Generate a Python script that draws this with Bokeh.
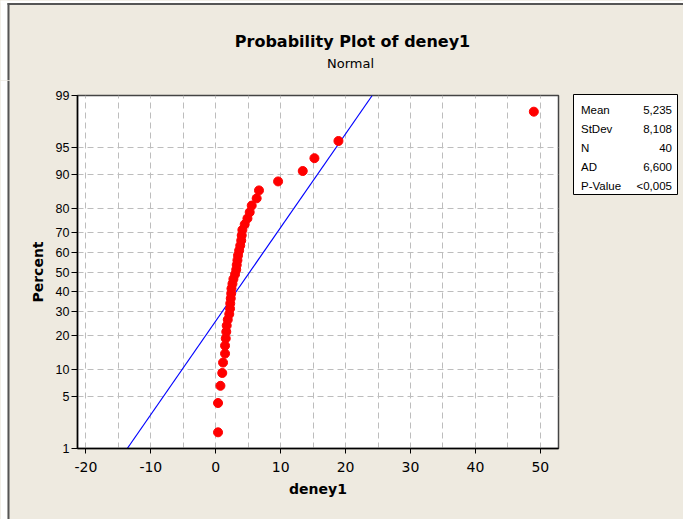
from statistics import NormalDist
from bokeh.plotting import figure
from bokeh.layouts import column, row
from bokeh.models import Range1d, FixedTicker, ColumnDataSource
from bokeh.core.properties import value
from bokeh.embed import file_html
from bokeh.resources import INLINE

# ---- data ----
deney1 = [0.35, 0.35, 0.72, 1.0, 1.12, 1.43, 1.43, 1.54, 1.62, 1.69,
          1.85, 2.08, 2.2, 2.23, 2.31, 2.38, 2.42, 2.57, 2.72, 2.97,
          3.15, 3.23, 3.34, 3.43, 3.6, 3.77, 3.92, 4.0, 4.1, 4.46,
          4.88, 5.23, 5.54, 6.3, 6.66, 9.6, 13.4, 15.2, 18.9, 49.0]
percent = [1.73, 4.21, 6.68, 9.16, 11.63, 14.11, 16.58, 19.06, 21.53, 24.01,
           26.49, 28.96, 31.44, 33.91, 36.39, 38.86, 41.34, 43.81, 46.29, 48.76,
           51.24, 53.71, 56.19, 58.66, 61.14, 63.61, 66.09, 68.56, 71.04, 73.51,
           75.99, 78.47, 80.94, 83.42, 85.89, 88.37, 90.84, 93.32, 95.79, 98.27]
fit_percent = [1, 99]
fit_x = [-13.63, 24.10]

y_tick_percent = [1, 5, 10, 20, 30, 40, 50, 60, 70, 80, 90, 95, 99]
x_ticks = [-20, -10, 0, 10, 20, 30, 40, 50]
x_grid = [-20, -15, -10, -5, 0, 5, 10, 15, 20, 25, 30, 35, 40, 45, 50]

stat_names = ["Mean", "StDev", "N", "AD", "P-Value"]
stat_values = ["5,235", "8,108", "40", "6,600", "<0,005"]

title_text = "Probability Plot of deney1"
subtitle_text = "Normal"


def probit(pct):
    return NormalDist().inv_cdf(pct / 100.0)


BG = "#EEEAE0"
EDGE = "#555555"
PAGE_W, PAGE_H = 683, 519
HEAD_H = 80
BODY_H = PAGE_H - HEAD_H
STRIP_W = 10
STATS_W = 117
MAIN_W = PAGE_W - STRIP_W - STATS_W


def bare(fig):
    fig.min_border_left = fig.min_border_right = 0
    fig.min_border_top = fig.min_border_bottom = 0
    fig.outline_line_color = None
    return fig


# ---- header: title, subtitle, top edge line ----
header = bare(figure(width=PAGE_W, height=HEAD_H, output_backend="svg", toolbar_location=None,
                     x_range=Range1d(0, PAGE_W), y_range=Range1d(HEAD_H, 0),
                     x_axis_type=None, y_axis_type=None, frame_align=False,
                     background_fill_color=BG, border_fill_color=BG))
header.quad(left=[0, 0], right=[PAGE_W, 7], top=[0, 0], bottom=[2.5, HEAD_H],
            fill_color="white", line_color=None)
header.quad(left=[7, 7], right=[PAGE_W, 9], top=[2.5, 2.5], bottom=[4.5, HEAD_H],
            fill_color=EDGE, line_color=None)
header.text(x=[352], y=[41], text=[title_text], text_font=value("DejaVu Sans"),
            text_font_style=value("bold"), text_font_size=value("16px"), text_color="black",
            text_align=value("center"), text_baseline=value("middle"))
header.text(x=[350], y=[63], text=[subtitle_text], text_font=value("DejaVu Sans"),
            text_font_size=value("13px"), text_color="black",
            text_align=value("center"), text_baseline=value("middle"))

# ---- left edge strip ----
strip = bare(figure(width=STRIP_W, height=BODY_H, output_backend="svg", toolbar_location=None,
                    x_range=Range1d(0, STRIP_W), y_range=Range1d(BODY_H, 0),
                    x_axis_type=None, y_axis_type=None, frame_align=False,
                    background_fill_color=BG, border_fill_color=BG))
strip.quad(left=[0], right=[7], top=[0], bottom=[BODY_H], fill_color="white", line_color=None)
strip.quad(left=[7], right=[9], top=[0], bottom=[BODY_H], fill_color=EDGE, line_color=None)

# ---- main probability plot ----
FL, FR, FT, FB = 77, 558, 95, 448  # frame on the page
p = figure(width=MAIN_W, height=BODY_H, output_backend="svg", toolbar_location=None,
           x_range=Range1d(-21.3, 52.8), y_range=Range1d(probit(1), probit(99)),
           min_border_left=FL - STRIP_W, min_border_right=STRIP_W + MAIN_W - FR,
           min_border_top=FT - HEAD_H, min_border_bottom=PAGE_H - FB,
           frame_align=False,
           background_fill_color="white", border_fill_color=BG)
p.outline_line_color = "#444444"
p.outline_line_width = 1.5

p.xaxis.ticker = FixedTicker(ticks=x_ticks)
p.xaxis.major_label_overrides = {t: str(t) for t in x_ticks}
y_tick_pos = [probit(t) for t in y_tick_percent]
p.yaxis.ticker = FixedTicker(ticks=y_tick_pos)
p.yaxis.major_label_overrides = {z: str(t) for z, t in zip(y_tick_pos, y_tick_percent)}

for ax in (p.xaxis[0], p.yaxis[0]):
    ax.axis_line_color = "black"
    ax.axis_line_width = 1.5
    ax.major_tick_line_color = "black"
    ax.major_tick_in = 0
    ax.minor_tick_line_color = None
    ax.major_label_text_color = "black"
    ax.axis_label_text_color = "black"
    ax.axis_label_text_font = "DejaVu Sans"
    ax.axis_label_text_font_style = "bold"
    ax.axis_label_text_font_size = "14px"

p.xaxis.major_tick_out = 5
p.xaxis.major_label_text_font = "DejaVu Sans"
p.xaxis.major_label_text_font_size = "14px"
p.xaxis.major_label_standoff = 8
p.xaxis.axis_label = "deney1"
p.xaxis.axis_label_standoff = 6

p.yaxis.major_tick_out = 6
p.yaxis.major_label_text_font = "Liberation Sans"
p.yaxis.major_label_text_font_size = "12.5px"
p.yaxis.major_label_standoff = 2
p.yaxis.axis_label = "Percent"
p.yaxis.axis_label_standoff = 7

p.xgrid.ticker = FixedTicker(ticks=x_grid)
for g in (p.xgrid[0], p.ygrid[0]):
    g.grid_line_color = "#BDBDBD"
    g.grid_line_dash = "6 4"
    g.grid_line_width = 1

p.line(x=fit_x, y=[probit(v) for v in fit_percent], line_color="blue", line_width=1.2)

src = ColumnDataSource(data=dict(x=deney1, z=[probit(v) for v in percent]))
p.scatter(x="x", y="z", source=src, size=9, fill_color="red", line_color="red")

# ---- statistics box ----
SL, SR, ST, SB = 573, 677, 94, 194  # box on the page
xs0 = STRIP_W + MAIN_W
stats = figure(width=STATS_W, height=BODY_H, output_backend="svg", toolbar_location=None,
               x_range=Range1d(SL, SR), y_range=Range1d(SB, ST),
               x_axis_type=None, y_axis_type=None, frame_align=False,
               min_border_left=SL - xs0, min_border_right=PAGE_W - SR,
               min_border_top=ST - HEAD_H, min_border_bottom=PAGE_H - SB,
               background_fill_color="white", border_fill_color=BG)
stats.outline_line_color = "black"
stats.outline_line_width = 1
row_y = [109.5 + 19 * i for i in range(len(stat_names))]
stats.text(x=[580.5] * len(stat_names), y=row_y, text=stat_names,
           text_font=value("Liberation Sans"), text_font_size=value("11.5px"), text_color="black",
           text_align=value("left"), text_baseline=value("middle"))
stats.text(x=[671.5] * len(stat_values), y=row_y, text=stat_values,
           text_font=value("Liberation Sans"), text_font_size=value("11.5px"), text_color="black",
           text_align=value("right"), text_baseline=value("middle"))

body = row(strip, p, stats, spacing=0, styles={"background-color": BG})
layout = column(header, body, spacing=0, styles={"background-color": BG})
open("out.html", "w").write(file_html(layout, INLINE))
